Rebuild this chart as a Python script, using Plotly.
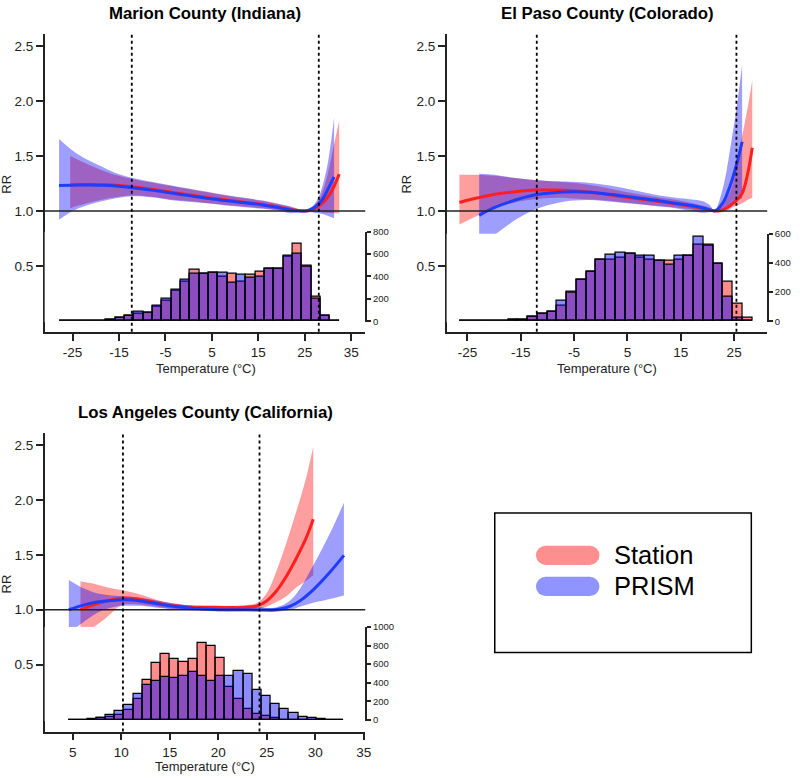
import numpy as np
import plotly.graph_objects as go

W, H = 800, 778
FONT = "Liberation Sans, Arial, sans-serif"
RED_LINE = "#FF1F1F"
BLUE_LINE = "#1F3DFF"
RED_FILL = "rgba(255,0,0,0.38)"
BLUE_FILL = "rgba(0,0,255,0.38)"
RED_BAR = "rgba(255,0,0,0.45)"
BLUE_BAR = "rgba(0,0,255,0.45)"

# ---------------- Marion County (Indiana) ----------------
marion_st_t = [-25.5, -22, -18, -15, -12, -8, -4, 0, 4, 8, 12, 16, 20, 22, 24, 25, 26, 27, 28, 29, 30, 31, 32.4]
marion_st_rr = [1.238, 1.242, 1.238, 1.231, 1.218, 1.197, 1.172, 1.147, 1.122, 1.1, 1.08, 1.06, 1.03, 1.015, 1.003, 1.0, 1.005, 1.02, 1.045, 1.08, 1.13, 1.2, 1.335]
marion_st_hi = [1.5, 1.43, 1.36, 1.32, 1.29, 1.26, 1.23, 1.2, 1.17, 1.14, 1.115, 1.09, 1.055, 1.035, 1.01, 1.0, 1.02, 1.05, 1.1, 1.2, 1.35, 1.55, 1.82]
marion_st_lo = [1.025, 1.07, 1.11, 1.13, 1.14, 1.13, 1.105, 1.09, 1.07, 1.055, 1.04, 1.025, 1.005, 0.99, 0.995, 1.0, 0.995, 0.99, 0.99, 0.985, 0.985, 0.98, 0.98]

marion_pr_t = [-27.9, -25, -22, -18, -15, -12, -8, -4, 0, 4, 8, 12, 16, 20, 22, 24, 25, 26, 27, 28, 29, 30, 31.3]
marion_pr_rr = [1.233, 1.235, 1.237, 1.235, 1.225, 1.212, 1.19, 1.165, 1.14, 1.115, 1.095, 1.075, 1.055, 1.025, 1.01, 1.0, 1.0, 1.01, 1.03, 1.065, 1.12, 1.2, 1.31]
marion_pr_hi = [1.655, 1.55, 1.47, 1.39, 1.335, 1.3, 1.265, 1.235, 1.205, 1.175, 1.145, 1.12, 1.095, 1.06, 1.04, 1.012, 1.0, 1.025, 1.06, 1.13, 1.26, 1.45, 1.85]
marion_pr_lo = [0.92, 1.0, 1.05, 1.095, 1.12, 1.135, 1.125, 1.1, 1.085, 1.07, 1.05, 1.035, 1.02, 0.995, 0.98, 0.99, 1.0, 0.99, 0.985, 0.98, 0.97, 0.955, 0.935]

marion_bin_start, marion_bin_width = -27.8, 2.007
marion_st_counts = [0, 1, 2, 3, 5, 9, 29, 53, 70, 76, 126, 185, 268, 353, 459, 420, 429, 400, 420, 353, 412, 441, 465, 470, 576, 694, 500, 223, 53, 5]
marion_pr_counts = [1, 2, 3, 4, 6, 10, 29, 53, 80, 76, 141, 200, 282, 367, 420, 420, 429, 429, 341, 412, 391, 400, 465, 470, 588, 606, 488, 200, 53, 2]

# ---------------- El Paso County (Colorado) ----------------
elpaso_st_t = [-26.5, -23, -20, -16, -12, -8, -4, 0, 4, 8, 12, 16, 19, 20.5, 21.5, 22.5, 23.5, 24.6, 25.5, 26.5, 27.5, 28.4]
elpaso_st_rr = [1.078, 1.12, 1.15, 1.175, 1.19, 1.19, 1.18, 1.16, 1.13, 1.105, 1.08, 1.05, 1.025, 1.01, 1.0, 1.005, 1.025, 1.06, 1.1, 1.16, 1.33, 1.575]
elpaso_st_hi = [1.33, 1.33, 1.32, 1.3, 1.28, 1.265, 1.25, 1.22, 1.18, 1.145, 1.115, 1.085, 1.05, 1.03, 1.0, 1.03, 1.1, 1.22, 1.42, 1.68, 1.93, 2.19]
elpaso_st_lo = [0.877, 0.96, 1.02, 1.08, 1.11, 1.12, 1.11, 1.1, 1.08, 1.06, 1.04, 1.02, 1.0, 0.995, 1.0, 0.99, 0.995, 1.03, 1.05, 1.07, 1.1, 1.12]

elpaso_pr_t = [-22.8, -20, -16, -12, -8, -5, -2, 2, 6, 10, 14, 17, 19, 20.5, 21.3, 22, 22.5, 23.1, 23.6, 24.6, 25.5, 26.5]
elpaso_pr_rr = [0.96, 1.03, 1.1, 1.15, 1.17, 1.175, 1.17, 1.15, 1.125, 1.1, 1.07, 1.05, 1.03, 1.01, 1.0, 1.02, 1.05, 1.09, 1.145, 1.28, 1.43, 1.63]
elpaso_pr_hi = [1.34, 1.33, 1.3, 1.28, 1.27, 1.265, 1.255, 1.23, 1.19, 1.15, 1.12, 1.105, 1.09, 1.05, 1.0, 1.06, 1.14, 1.25, 1.37, 1.67, 1.95, 2.33]
elpaso_pr_lo = [0.695, 0.78, 0.92, 1.02, 1.075, 1.095, 1.1, 1.085, 1.065, 1.045, 1.025, 1.0, 0.985, 0.99, 1.0, 0.99, 1.0, 1.02, 1.04, 1.06, 1.09, 1.115]

elpaso_bin_start, elpaso_bin_width = -26.5, 1.83
elpaso_st_counts = [1, 1, 2, 3, 5, 7, 11, 30, 50, 68, 107, 202, 284, 339, 420, 420, 432, 466, 432, 425, 414, 414, 425, 452, 527, 527, 391, 273, 118, 27]
elpaso_pr_counts = [0, 1, 1, 2, 4, 7, 11, 30, 50, 68, 139, 193, 284, 339, 420, 459, 470, 462, 452, 452, 414, 386, 452, 452, 577, 516, 391, 170, 27, 0]

# ---------------- Los Angeles County (California) ----------------
la_st_t = [5.8, 7, 8.5, 10, 11.5, 13, 15, 17, 19, 21, 22.5, 24, 25, 26, 27, 28, 29, 29.8]
la_st_rr = [1.0, 1.04, 1.08, 1.105, 1.1, 1.075, 1.04, 1.025, 1.02, 1.02, 1.02, 1.035, 1.08, 1.17, 1.3, 1.46, 1.64, 1.825]
la_st_hi = [1.26, 1.24, 1.205, 1.18, 1.15, 1.11, 1.06, 1.04, 1.04, 1.035, 1.04, 1.06, 1.15, 1.35, 1.6, 1.88, 2.18, 2.485]
la_st_lo = [0.79, 0.835, 0.93, 1.04, 1.05, 1.035, 1.01, 1.0, 1.0, 1.0, 1.0, 1.01, 1.03, 1.07, 1.12, 1.2, 1.26, 1.315]

la_pr_t = [4.6, 6, 7.5, 9, 10.5, 12, 14, 16, 18, 20, 22, 24, 25.5, 26.5, 27.5, 28.5, 29.9, 31.6, 32.96]
la_pr_rr = [1.0, 1.04, 1.07, 1.085, 1.09, 1.08, 1.05, 1.025, 1.01, 1.0, 1.0, 0.998, 0.998, 1.008, 1.035, 1.085, 1.19, 1.35, 1.495]
la_pr_hi = [1.27, 1.2, 1.15, 1.13, 1.12, 1.11, 1.08, 1.05, 1.03, 1.02, 1.03, 1.03, 1.015, 1.035, 1.09, 1.2, 1.42, 1.71, 1.975]
la_pr_lo = [0.79, 0.88, 0.97, 1.02, 1.035, 1.035, 1.015, 1.0, 0.99, 0.985, 0.985, 0.99, 0.98, 0.985, 1.0, 1.03, 1.065, 1.1, 1.13]

la_bin_start, la_bin_width = 4.62, 0.945
la_st_counts = [0, 2, 5, 18, 35, 53, 113, 229, 434, 611, 713, 660, 628, 653, 826, 791, 664, 360, 229, 116, 70, 42, 18, 5, 2, 0, 0, 0, 0, 0]
la_pr_counts = [3, 5, 10, 25, 53, 99, 159, 275, 378, 424, 466, 452, 470, 512, 473, 424, 477, 477, 530, 494, 325, 258, 169, 124, 71, 35, 18, 10, 5, 2]

titles = ["Marion County (Indiana)", "El Paso County (Colorado)", "Los Angeles County (California)"]
cutoffs = [(-12.25, 28.0), (-12.0, 25.43), (10.18, 24.26)]
rr_ticks = [0.5, 1.0, 1.5, 2.0, 2.5]
x_ticks = [[-25, -15, -5, 5, 15, 25, 35], [-25, -15, -5, 5, 15, 25], [5, 10, 15, 20, 25, 30, 35]]
count_ticks = [[0, 200, 400, 600, 800], [0, 200, 400, 600], [0, 200, 400, 600, 800, 1000]]


def fx(px):
    return px / W


def fy(py):
    return 1 - py / H


panels = [
    dict(st=(marion_st_t, marion_st_rr, marion_st_lo, marion_st_hi),
         pr=(marion_pr_t, marion_pr_rr, marion_pr_lo, marion_pr_hi),
         bins=(marion_bin_start, marion_bin_width, marion_st_counts, marion_pr_counts),
         box=(45, 368, 28, 330), xr=[-31.0, 38.0], yr=[-0.098, 2.613], hist=(319.3, 228.7),
         title=(207, 8), xtitle=(207.5, 367), rrtitle=(7, 180)),
    dict(st=(elpaso_st_t, elpaso_st_rr, elpaso_st_lo, elpaso_st_hi),
         pr=(elpaso_pr_t, elpaso_pr_rr, elpaso_pr_lo, elpaso_pr_hi),
         bins=(elpaso_bin_start, elpaso_bin_width, elpaso_st_counts, elpaso_pr_counts),
         box=(450, 773, 28, 330), xr=[-28.9, 31.2], yr=[-0.098, 2.613], hist=(319.3, 230.7),
         title=(612, 8), xtitle=(612, 367), rrtitle=(410, 180)),
    dict(st=(la_st_t, la_st_rr, la_st_lo, la_st_hi),
         pr=(la_pr_t, la_pr_rr, la_pr_lo, la_pr_hi),
         bins=(la_bin_start, la_bin_width, la_st_counts, la_pr_counts),
         box=(45, 368, 433, 735), xr=[2.11, 35.16], yr=[-0.11, 2.606], hist=(723.3, 629),
         title=(207, 412), xtitle=(207, 770), rrtitle=(7, 585)),
]

fig = go.Figure()
layout = {}
shapes = []
annotations = []


def add_text(text, px, py, size, color="#222", xanchor="center", angle=0):
    annotations.append(dict(text=text, x=fx(px), y=fy(py), xref="paper", yref="paper",
                            xanchor=xanchor, yanchor="middle", textangle=angle, showarrow=False,
                            font=dict(family=FONT, size=size, color=color)))


for i, p in enumerate(panels):
    xa = "x" if i == 0 else f"x{i + 1}"
    ya_n = 2 * i + 1
    yh_n = 2 * i + 2
    ya = "y" if ya_n == 1 else f"y{ya_n}"
    yh = f"y{yh_n}"
    left, right, top, bottom = p["box"]
    zero_py, top_py = p["hist"]
    bin_start, bin_w, st_counts, pr_counts = p["bins"]

    # confidence bands + curves
    for (t, rr, lo, hi), fill in [(p["st"], RED_FILL), (p["pr"], BLUE_FILL)]:
        fig.add_trace(go.Scatter(x=t, y=lo, xaxis=xa, yaxis=ya, mode="lines",
                                 line=dict(width=0, shape="spline"), hoverinfo="skip", showlegend=False))
        fig.add_trace(go.Scatter(x=t, y=hi, xaxis=xa, yaxis=ya, mode="lines", fill="tonexty",
                                 fillcolor=fill, line=dict(width=0, shape="spline"),
                                 hoverinfo="skip", showlegend=False))
    for (t, rr, lo, hi), col in [(p["st"], RED_LINE), (p["pr"], BLUE_LINE)]:
        fig.add_trace(go.Scatter(x=t, y=rr, xaxis=xa, yaxis=ya, mode="lines",
                                 line=dict(color=col, width=3, shape="spline"), showlegend=False))

    # histograms of daily temperature
    centers = bin_start + bin_w * (np.arange(len(st_counts)) + 0.5)
    for counts, col in [(st_counts, RED_BAR), (pr_counts, BLUE_BAR)]:
        fig.add_trace(go.Bar(x=centers, y=counts, width=bin_w, xaxis=xa, yaxis=yh,
                             marker=dict(color=col, line=dict(color="black", width=1.2)),
                             showlegend=False))

    ctop = count_ticks[i][-1]
    pad = 1.0
    layout["xaxis" if i == 0 else f"xaxis{i + 1}"] = dict(
        domain=[fx(left), fx(right)], anchor=ya, range=p["xr"], tickvals=x_ticks[i],
        ticktext=[str(v) for v in x_ticks[i]],
        showline=True, linecolor="#222", linewidth=1.5, ticks="outside", ticklen=7,
        tickwidth=1.5, tickcolor="#222", showgrid=False, zeroline=False,
        tickfont=dict(family=FONT, size=13.5, color="#222"))
    layout["yaxis" if ya_n == 1 else f"yaxis{ya_n}"] = dict(
        domain=[fy(bottom), fy(top)], anchor=xa, range=p["yr"], tickvals=rr_ticks,
        ticktext=[f"{v:.1f}" for v in rr_ticks], showline=True, linecolor="#222", linewidth=1.5,
        ticks="outside", ticklen=7, tickwidth=1.5, tickcolor="#222", showgrid=False,
        zeroline=False, tickfont=dict(family=FONT, size=13.5, color="#222"))
    layout[f"yaxis{yh_n}"] = dict(
        domain=[fy(zero_py + pad), fy(top_py)], anchor=xa, side="right",
        range=[-ctop * pad / (zero_py - top_py), ctop], tickvals=count_ticks[i],
        showline=True, linecolor="#222", linewidth=1.5, ticks="outside", ticklen=4,
        tickwidth=1.5, tickcolor="#222", showgrid=False, zeroline=False,
        tickfont=dict(family=FONT, size=9.5, color="#222"))

    # reference line at RR = 1 and the dotted percentile lines
    shapes.append(dict(type="line", xref=f"{xa} domain", yref=ya, x0=0, x1=1, y0=1, y1=1,
                       line=dict(color="#222", width=1.5), layer="above"))
    for c in cutoffs[i]:
        shapes.append(dict(type="line", xref=xa, yref=f"{ya} domain", x0=c, x1=c, y0=0, y1=1,
                           line=dict(color="black", width=1.8, dash="3px,3px"), layer="above"))

    add_text(f"<b>{titles[i]}</b>", *p["title"], 16.8, color="black")
    add_text("Temperature (°C)", *p["xtitle"], 13)
    add_text("RR", *p["rrtitle"], 13, angle=-90)

# legend box drawn by hand
shapes.append(dict(type="rect", xref="paper", yref="paper", x0=fx(498.5), x1=fx(757),
                   y0=fy(655), y1=fy(513.5), line=dict(color="black", width=1.5)))
for name, col, cy in [("Station", "#FF8F8F", 556.5), ("PRISM", "#8F94FF", 588)]:
    r = 9.7
    x0, x1 = 540.0, 604.0
    shapes.append(dict(type="rect", xref="paper", yref="paper", x0=fx(x0 + r), x1=fx(x1 - r),
                       y0=fy(cy + r), y1=fy(cy - r), fillcolor=col, line=dict(width=0)))
    for cx in (x0 + r, x1 - r):
        shapes.append(dict(type="circle", xref="paper", yref="paper", x0=fx(cx - r), x1=fx(cx + r),
                           y0=fy(cy + r), y1=fy(cy - r), fillcolor=col, line=dict(width=0)))
    add_text(name, 617, cy, 25.5, color="black", xanchor="left")

fig.update_layout(
    width=W, height=H, margin=dict(l=0, r=0, t=0, b=0),
    paper_bgcolor="white", plot_bgcolor="white",
    barmode="overlay", bargap=0, showlegend=False,
    shapes=shapes, annotations=annotations, **layout)

fig.write_html("out.html", config={"displayModeBar": False},
               post_script="document.body.style.margin='0';")
